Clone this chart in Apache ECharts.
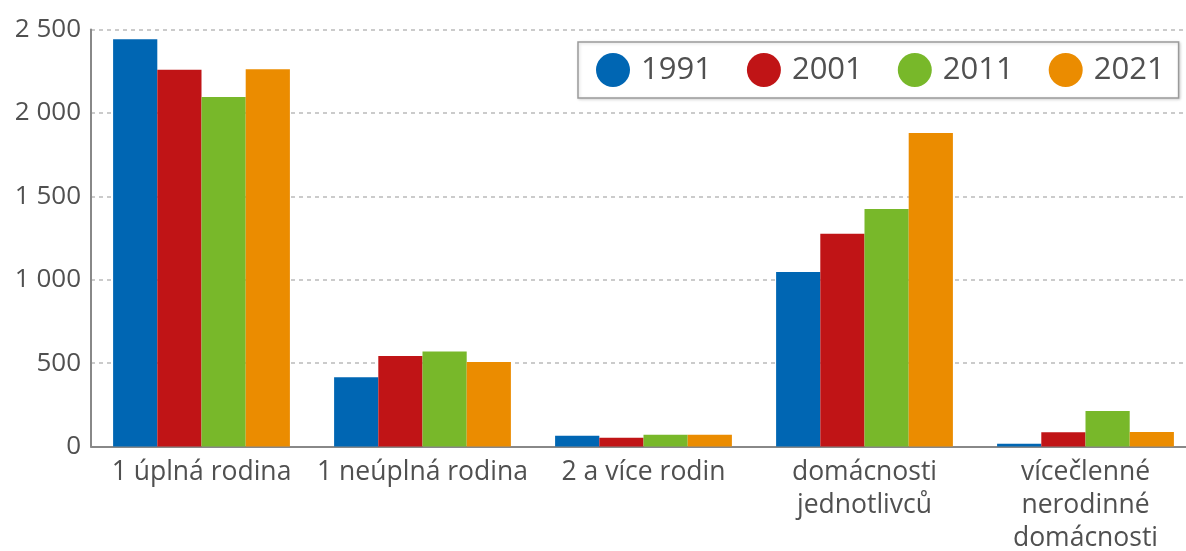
<!DOCTYPE html>
<html>
<head>
<meta charset="utf-8">
<script src="https://cdn.jsdelivr.net/npm/echarts@6/dist/echarts.min.js"></script>
<style>
html,body{margin:0;padding:0;background:#fff;}
#c{width:1186px;height:551px;}
</style>
</head>
<body>
<div id="c"></div>
<script>
var categories = ['1 úplná rodina', '1 neúplná rodina', '2 a více rodin', 'domácnosti\njednotlivců', 'vícečlenné\nnerodinné\ndomácnosti'];
var years = ['1991', '2001', '2011', '2021'];
var v1991 = [2441, 415, 65, 1046, 17];
var v2001 = [2259, 543, 53, 1276, 86];
var v2011 = [2095, 570, 70, 1424, 213];
var v2021 = [2261, 507, 70, 1880, 87];
var colors = ['#0066b3', '#c01416', '#78b82a', '#eb8c00'];
var yTicks = [0, 500, 1000, 1500, 2000, 2500];

var font = 'Open Sans';
var seriesData = [v1991, v2001, v2011, v2021];
var chart = echarts.init(document.getElementById('c'));
chart.setOption({
  animation: false,
  textStyle: {fontFamily: font},
  grid: {left: 91, top: 29.5, width: 1105, height: 417, outerBoundsMode: 'none', containLabel: false},
  legend: {
    left: 578, top: 42,
    padding: [11, 14, 11, 18],
    borderColor: '#9a9a9a', borderWidth: 1.5,
    backgroundColor: '#fff',
    shadowColor: 'rgba(0,0,0,0.15)', shadowBlur: 3, shadowOffsetX: 1, shadowOffsetY: 1,
    icon: 'circle', itemWidth: 34, itemHeight: 34, itemGap: 35,
    textStyle: {fontFamily: font, fontSize: 31, color: '#505050', padding: [0, 0, 0, 6]},
    data: years
  },
  xAxis: {
    type: 'category',
    data: categories,
    axisLine: {lineStyle: {color: '#888', width: 2}},
    axisTick: {show: false},
    axisLabel: {fontFamily: font, fontSize: 26.5, color: '#505050', margin: 9, lineHeight: 33, interval: 0}
  },
  yAxis: {
    type: 'value',
    min: yTicks[0], max: yTicks[yTicks.length - 1], interval: yTicks[1] - yTicks[0],
    axisLine: {show: true, lineStyle: {color: '#888', width: 2}},
    axisTick: {show: false},
    splitLine: {lineStyle: {color: '#bbb', type: [4, 4], width: 1.5}},
    axisLabel: {
      fontFamily: font, fontSize: 26, color: '#505050', margin: 10,
      formatter: function (v) { return String(v).replace(/\B(?=(\d{3})+(?!\d))/g, ' '); }
    }
  },
  series: years.map(function (y, i) {
    return {
      name: y, type: 'bar', data: seriesData[i],
      barGap: '0%', barCategoryGap: '20%',
      itemStyle: {color: colors[i]}
    };
  })
});
</script>
</body>
</html>
